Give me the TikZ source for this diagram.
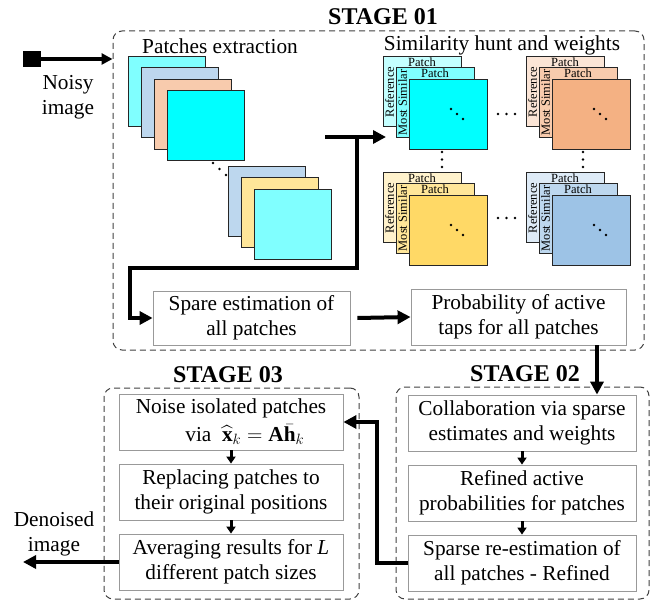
\documentclass[tikz,border=0pt]{standalone}
\usepackage{fix-cm}
\usepackage{amsmath}
\usepackage{fontspec}
\setmainfont{Liberation Serif}
\usetikzlibrary{arrows.meta}
\definecolor{cyanA}{HTML}{80FFFF}
\definecolor{cyanB}{HTML}{00FFFF}
\definecolor{cyanL}{HTML}{C4FFFF}
\definecolor{blueA}{HTML}{BDD7EE}
\definecolor{blueL}{HTML}{DEEBF7}
\definecolor{blueB}{HTML}{9DC3E6}
\definecolor{peachA}{HTML}{F8CBAD}
\definecolor{peachL}{HTML}{FBE5D6}
\definecolor{peachB}{HTML}{F4B183}
\definecolor{yelA}{HTML}{FFE699}
\definecolor{yelL}{HTML}{FFF2CC}
\definecolor{yelB}{HTML}{FFD966}
\definecolor{dashcol}{HTML}{404040}
\newcommand\simgrp[5]{%
  \begin{scope}[shift={(#1,#2)}]
    \filldraw[sqr,fill=#3] (0,0) rectangle (78,70);
    \node[lbl] at (39,6) {Patch};
    \node[lbl,rotate=90] at (6.5,36) {Reference};
    \filldraw[sqr,fill=#4] (13,11.5) rectangle (91,81.5);
    \node[lbl] at (52,17.5) {Patch};
    \begin{scope}
      \clip (13,11.5) rectangle (91,81.5);
      \node[lbl,rotate=90] at (19.5,46.5) {Most Similar};
    \end{scope}
    \filldraw[sqr,fill=#5] (26,23) rectangle (104,93);
    \fill (68,53) circle (1.4) (74,58) circle (1.4) (80,63) circle (1.4);
  \end{scope}}
\begin{document}
\begin{tikzpicture}[x=1pt,y=-1pt,
  sqr/.style={draw=black!85,line width=0.7pt},
  lbl/.style={inner sep=0pt,font=\fontsize{12.5}{13}\selectfont},
  procbox/.style={draw=black!40,line width=0.8pt,fill=white,align=center,inner sep=0pt,
     font=\fontsize{21.3}{25}\selectfont},
  dashbox/.style={draw=dashcol,line width=1pt,dash pattern=on 6pt off 4pt,rounded corners=9pt,inner sep=0pt},
  stagetitle/.style={font=\fontsize{24}{26}\selectfont\bfseries,inner sep=0pt},
  heading/.style={font=\fontsize{21.3}{25}\selectfont,inner sep=0pt,align=center},
  bigarrow/.style={line width=4pt,-{Triangle[length=13pt,width=13pt]}},
  midarrow/.style={line width=3.2pt,-{Triangle[length=11pt,width=11pt]}},
  smallarrow/.style={line width=3pt,-{Triangle[length=7pt,width=9pt]}}
]
\useasboundingbox (0,0) rectangle (668,601);

% stage frames
\node[dashbox,minimum width=531pt,minimum height=319pt] (s1) at (378.5,190.5) {};
\node[dashbox,minimum width=255pt,minimum height=211pt] (s3) at (231.5,493.5) {};
\node[dashbox,minimum width=253pt,minimum height=212pt] (s2) at (522.5,493) {};
\node[stagetitle] (t1) at (383,17) {STAGE 01};
\node[stagetitle] (t3) at (228,375) {STAGE 03};
\node[stagetitle] (t2) at (525,374) {STAGE 02};

% noisy image input
\node[fill=black,minimum width=18pt,minimum height=16pt,inner sep=0pt] (noisy) at (32,59) {};
\node[heading] (noisylbl) at (68,97) {Noisy\\image};
\draw[midarrow] (noisy.east) -- (s1.west |- noisy.east);

% patches extraction
\node[heading] (pe) at (220,46) {Patches extraction};
\filldraw[sqr,fill=cyanA] (128,56) rectangle ++(77,70);
\filldraw[sqr,fill=blueA] (141,67.5) rectangle ++(77,70);
\filldraw[sqr,fill=peachA] (154,79) rectangle ++(77,70);
\filldraw[sqr,fill=cyanB] (167,90.5) rectangle ++(77,70);
\fill (213,163) circle (1.4) (219.5,169) circle (1.4) (226,175) circle (1.4);
\filldraw[sqr,fill=blueA] (228,166) rectangle ++(77,70);
\filldraw[sqr,fill=yelA] (241,177.5) rectangle ++(77,70);
\filldraw[sqr,fill=cyanA] (254,189) rectangle ++(77,70);

% similarity hunt
\node[heading] (sh) at (502,45) {Similarity hunt and weights};
\simgrp{383}{56}{cyanL}{cyanA}{cyanB}
\simgrp{526}{56}{peachL}{peachA}{peachB}
\simgrp{383}{172}{yelL}{yelA}{yelB}
\simgrp{526}{172}{blueL}{blueA}{blueB}
\fill (498,114) circle (1.4) (506.5,114) circle (1.4) (515,114) circle (1.4);
\fill (498,218) circle (1.4) (506.5,218) circle (1.4) (515,218) circle (1.4);
\fill (442,152) circle (1.4) (442,159.5) circle (1.4) (442,167) circle (1.4);
\fill (583,152) circle (1.4) (583,159.5) circle (1.4) (583,167) circle (1.4);

% stage 01 process boxes
\node[procbox,minimum width=197pt,minimum height=54pt] (spare) at (251.5,318) {Spare estimation of\\all patches};
\node[procbox,minimum width=215pt,minimum height=56pt] (prob) at (518.5,317) {Probability of active\\taps for all patches};

% stage 03 boxes
\node[procbox,minimum width=224pt,minimum height=56pt] (noise) at (231,422) {Noise isolated patches\\[3pt]\hspace*{1.3em}via\ \ $\widehat{\mathbf{x}}_k=\mathbf{A}\bar{\mathbf{h}}_k$};
\node[procbox,minimum width=224pt,minimum height=56pt] (repl) at (231,492) {Replacing patches to\\their original positions};
\node[procbox,minimum width=224pt,minimum height=56pt] (avg) at (231,562) {Averaging results for \textit{L}\\different patch sizes};

% stage 02 boxes
\node[procbox,minimum width=228pt,minimum height=56pt] (collab) at (522,423) {Collaboration via sparse\\estimates and weights};
\node[procbox,minimum width=228pt,minimum height=56pt] (refined) at (522,493) {Refined active\\probabilities for patches};
\node[procbox,minimum width=228pt,minimum height=56pt] (sparse) at (522,563) {Sparse re-estimation of\\all patches - Refined};

% denoised output
\node[heading] (denlbl) at (54,534) {Denoised\\image};
\coordinate (outend) at (23,566);

% connectors
\coordinate (tstart) at (325,137);
\coordinate (tmid) at (357,137);
\coordinate (tend) at (386,137);
\draw[bigarrow] (tstart) -- (tend);
\draw[bigarrow,line join=miter] (tmid) -- (357,268) -- (130,268) |- (spare.west);
\draw[bigarrow] ([xshift=7pt]spare.east) -- (prob.west);
\draw[bigarrow] (prob.south -| 597,0) -- (collab.north -| 597,0);
\draw[smallarrow] (noise.south) -- (repl.north);
\draw[smallarrow] (repl.south) -- (avg.north);
\draw[smallarrow] (collab.south) -- (refined.north);
\draw[smallarrow] (refined.south) -- (sparse.north);
\draw[bigarrow,line join=miter] (sparse.west) -- (377,563) |- (noise.east);
\draw[bigarrow] (avg.west) -- (avg.west -| outend);
\end{tikzpicture}
\end{document}
